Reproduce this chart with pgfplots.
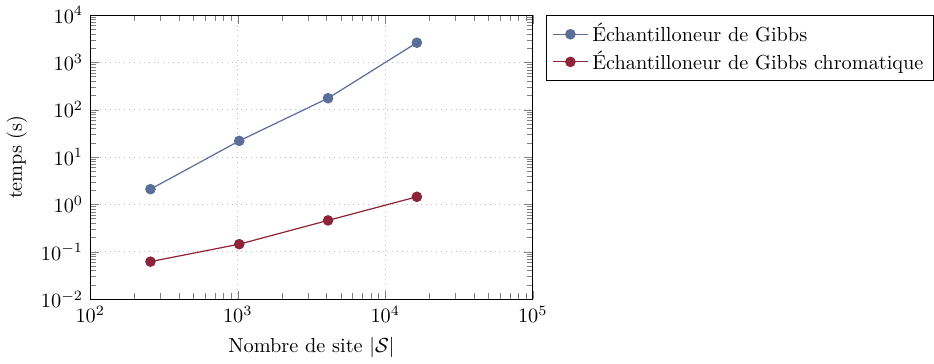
\documentclass[border=0pt]{standalone}
\usepackage{pgfplots}
\pgfplotsset{compat=1.18}
\definecolor{cblue}{RGB}{91,110,154}
\definecolor{cred}{RGB}{142,36,55}
\begin{document}
\begin{tikzpicture}
\begin{loglogaxis}[
  scale only axis,
  width=218pt, height=140pt,
  xmin=100, xmax=100000,
  ymin=0.01, ymax=10000,
  xtick={100,1000,10000,100000},
  ytick={0.01,0.1,1,10,100,1000,10000},
  minor ytick={0.02,0.03,0.04,0.05,0.06,0.07,0.08,0.09,
               0.2,0.3,0.4,0.5,0.6,0.7,0.8,0.9,
               2,3,4,5,6,7,8,9,
               20,30,40,50,60,70,80,90,
               200,300,400,500,600,700,800,900,
               2000,3000,4000,5000,6000,7000,8000,9000},
  xlabel={Nombre de site $|\mathcal{S}|$},
  ylabel={temps (s)},
  grid=major,
  major grid style={dotted, gray!50},
  legend style={at={(1.03,1)}, anchor=north west, draw=black, legend cell align=left, row sep=-1pt},
]
\addplot[cblue, mark=*, mark size=2.3pt, line width=0.6pt] coordinates {
  (256,2.1) (1024,22) (4096,175) (16384,2600)
};
\addlegendentry{Échantilloneur de Gibbs}
\addplot[cred, mark=*, mark size=2.3pt, line width=0.6pt] coordinates {
  (256,0.062) (1024,0.145) (4096,0.46) (16384,1.45)
};
\addlegendentry{Échantilloneur de Gibbs chromatique}
\end{loglogaxis}
\end{tikzpicture}
\end{document}
